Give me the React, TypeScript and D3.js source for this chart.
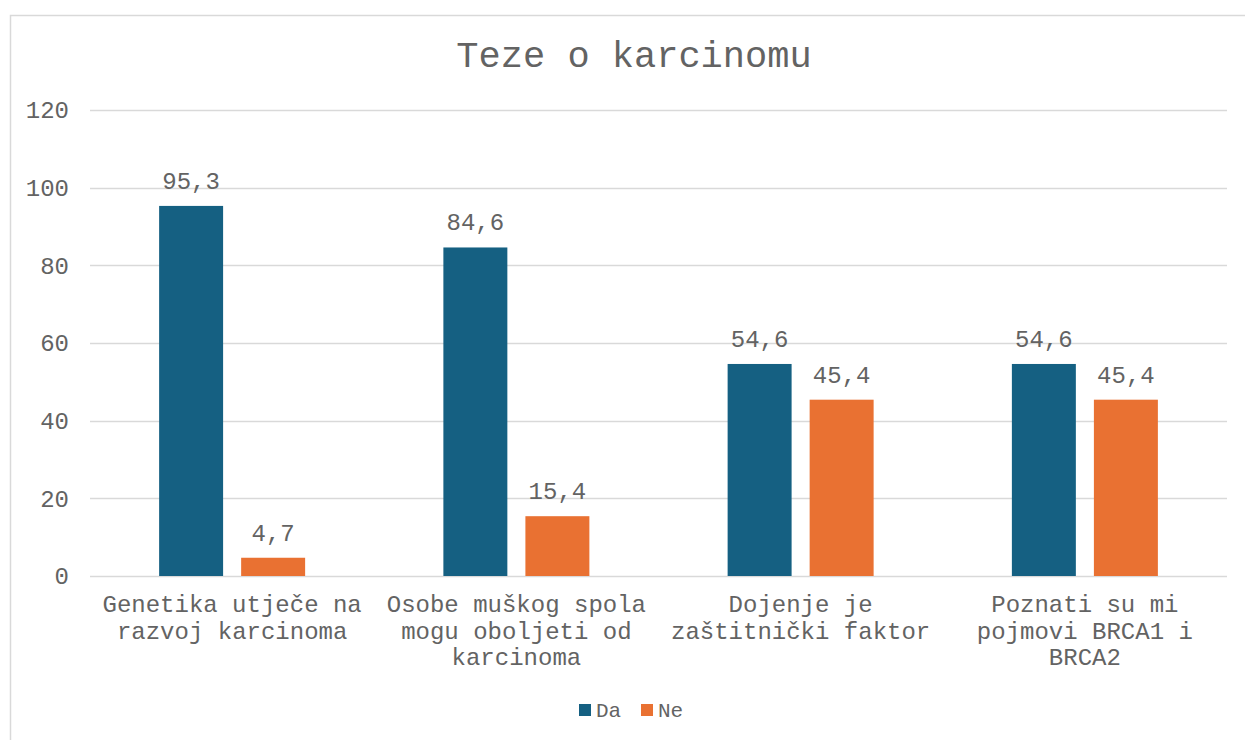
import React, { useEffect, useRef } from 'react'
import * as d3 from 'd3'

const categories = [
  ['Genetika utječe na', 'razvoj karcinoma'],
  ['Osobe muškog spola', 'mogu oboljeti od', 'karcinoma'],
  ['Dojenje je', 'zaštitnički faktor'],
  ['Poznati su mi', 'pojmovi BRCA1 i', 'BRCA2'],
]
const seriesNames = ['Da', 'Ne']
const daValues = [95.3, 84.6, 54.6, 54.6]
const neValues = [4.7, 15.4, 45.4, 45.4]
const yTicks = [0, 20, 40, 60, 80, 100, 120]
const colors = ['#156082', '#E97132']

const FONT = '"Liberation Mono", "Courier New", monospace'
const TEXT = '#636363'

export default function App() {
  const svgRef = useRef<SVGSVGElement>(null)

  useEffect(() => {
    const svg = d3.select(svgRef.current)
    svg.selectAll('*').remove()

    const width = 1245
    const height = 740
    const margin = { top: 110, right: 18, bottom: 164, left: 90 }
    const innerW = width - margin.left - margin.right
    const innerH = height - margin.top - margin.bottom

    svg.attr('width', width).attr('height', height)

    // chart frame
    svg.append('rect')
      .attr('x', 10.5).attr('y', 15.5)
      .attr('width', width).attr('height', height)
      .attr('fill', 'white')
      .attr('stroke', '#d9d9d9')
      .attr('stroke-width', 1.5)

    svg.append('text')
      .attr('x', 634).attr('y', 67)
      .attr('text-anchor', 'middle')
      .attr('font-family', FONT)
      .attr('font-size', '37px')
      .attr('fill', TEXT)
      .text('Teze o karcinomu')

    const g = svg.append('g')
      .attr('transform', `translate(${margin.left},${margin.top})`)

    const x = d3.scaleBand<number>().domain(d3.range(categories.length)).range([0, innerW])
    const x1 = d3.scaleBand<number>().domain([0, 1]).range([0, 146]).paddingInner(0.22)
    const y = d3.scaleLinear().domain([0, 120]).range([innerH, 0])

    // gridlines
    g.selectAll('.grid')
      .data(yTicks)
      .join('line')
      .attr('x1', 0).attr('x2', innerW)
      .attr('y1', d => Math.round(y(d)) + 0.5)
      .attr('y2', d => Math.round(y(d)) + 0.5)
      .attr('stroke', '#d9d9d9')
      .attr('stroke-width', 1.3)

    g.selectAll('.ytick')
      .data(yTicks)
      .join('text')
      .attr('x', -21)
      .attr('y', d => y(d))
      .attr('dy', '0.35em')
      .attr('text-anchor', 'end')
      .attr('font-family', FONT)
      .attr('font-size', '24px')
      .attr('fill', TEXT)
      .text(d => d)

    const series = [daValues, neValues]
    series.forEach((vals, si) => {
      const groupOffset = (x.bandwidth() - x1.range()[1]) / 2
      g.selectAll(`.bar${si}`)
        .data(vals)
        .join('rect')
        .attr('x', (d, i) => x(i)! + groupOffset + x1(si)!)
        .attr('y', d => y(d))
        .attr('width', x1.bandwidth())
        .attr('height', d => innerH - y(d))
        .attr('fill', colors[si])

      g.selectAll(`.lbl${si}`)
        .data(vals)
        .join('text')
        .attr('x', (d, i) => x(i)! + groupOffset + x1(si)! + x1.bandwidth() / 2)
        .attr('y', d => y(d) - 17)
        .attr('text-anchor', 'middle')
        .attr('font-family', FONT)
        .attr('font-size', '24px')
        .attr('fill', TEXT)
        .text(d => String(d).replace('.', ','))
    })

    // category labels
    categories.forEach((lines, i) => {
      const t = g.append('text')
        .attr('x', x(i)! + x.bandwidth() / 2)
        .attr('y', innerH + 36)
        .attr('text-anchor', 'middle')
        .attr('font-family', FONT)
        .attr('font-size', '24px')
        .attr('fill', TEXT)
      lines.forEach((line, li) => {
        t.append('tspan')
          .attr('x', x(i)! + x.bandwidth() / 2)
          .attr('dy', li === 0 ? 0 : 26.5)
          .text(line)
      })
    })

    // legend
    const legend = svg.append('g').attr('transform', 'translate(579,704)')
    seriesNames.forEach((name, i) => {
      const lg = legend.append('g').attr('transform', `translate(${i * 62},0)`)
      lg.append('rect').attr('width', 12).attr('height', 12).attr('fill', colors[i])
      lg.append('text')
        .attr('x', 17).attr('y', 6)
        .attr('dy', '0.35em')
        .attr('font-family', FONT)
        .attr('font-size', '21px')
        .attr('fill', TEXT)
        .text(name)
    })
  }, [])

  return <svg ref={svgRef} style={{ position: 'absolute', left: 0, top: 0, display: 'block' }} />
}
